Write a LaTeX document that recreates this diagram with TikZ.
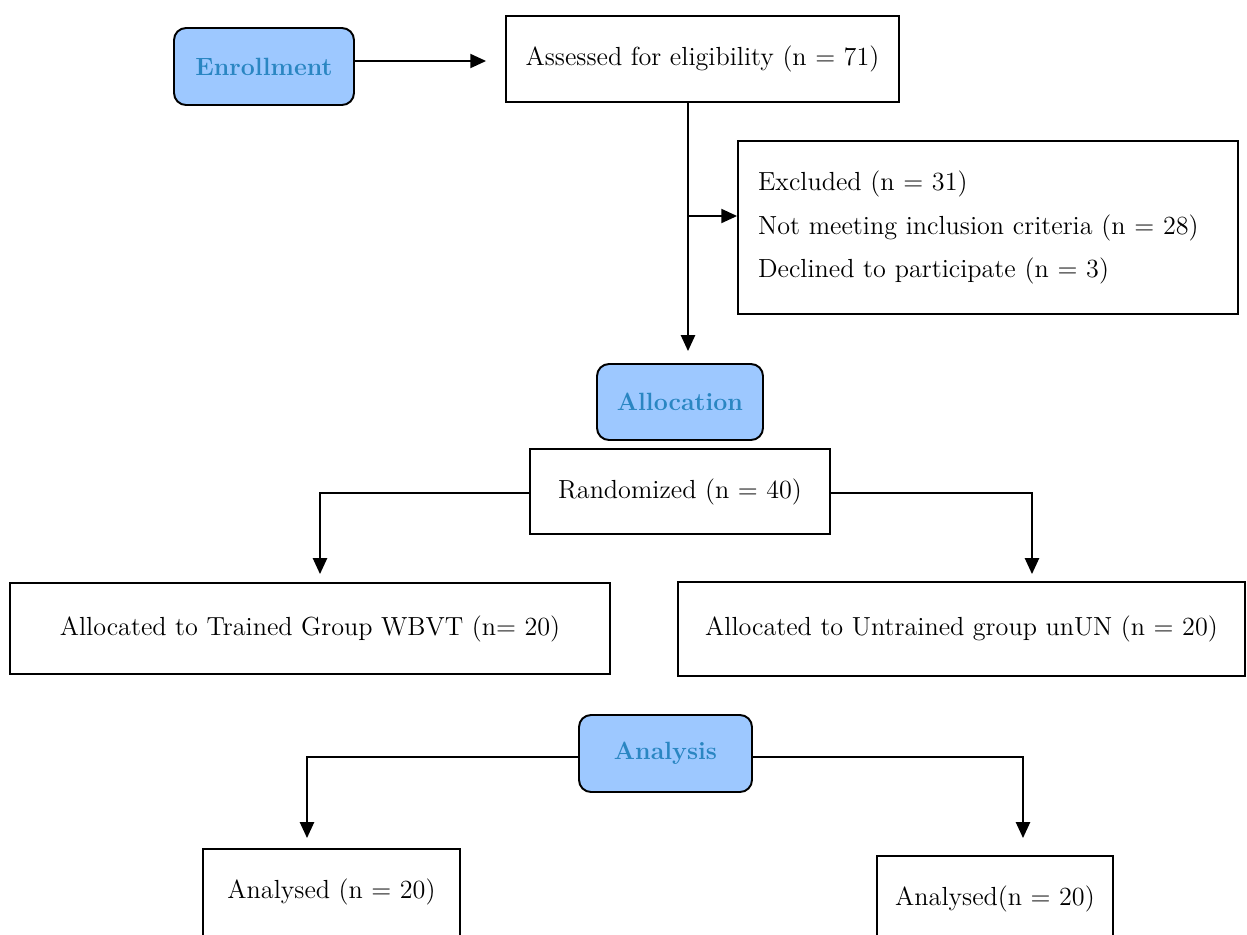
\documentclass[tikz,border=0pt]{standalone}
\usepackage{tikz}
\usetikzlibrary{arrows.meta,positioning}
\definecolor{phasefill}{HTML}{9DC8FF}
\definecolor{phasetext}{HTML}{2A86C2}
\tikzset{
  phase/.style={draw, line width=1.1pt, rounded corners=0.24cm, fill=phasefill,
    text=phasetext, font=\fontsize{14.2}{17}\selectfont\bfseries},
  stepbox/.style={draw, line width=1.1pt, font=\fontsize{14.9}{25}\selectfont},
  cutbox/.style={stepbox, anchor=north, inner ysep=0pt, text height=1cm, text depth=1.6cm},
  arr/.style={line width=1.1pt, -{Triangle[length=9pt,width=8pt]}}
}
\begin{document}
\begin{tikzpicture}[x=0.02cm, y=-0.02cm]
\clip (0,0) rectangle (1247,934);
\node[phase, minimum width=3.6cm, minimum height=1.54cm] (enroll) at (264,66.5) {Enrollment};
\node[stepbox, minimum width=7.86cm, minimum height=1.72cm] (assess) at (702.5,59) {Assessed for eligibility (n = 71)};
\node[stepbox, minimum width=10cm, minimum height=3.46cm, text width=9.2cm, inner xsep=0.4cm, align=left] (excl) at (988,227.5)
  {Excluded (n = 31)\\ Not meeting inclusion criteria (n = 28)\\ Declined to participate (n = 3)};
\node[phase, minimum width=3.32cm, minimum height=1.52cm] (alloc) at (680,402) {Allocation};
\node[stepbox, minimum width=6cm, minimum height=1.7cm] (rand) at (680,491.5) {Randomized (n = 40)};
\node[stepbox, minimum width=12cm, minimum height=1.82cm] (grpA) at (310,628.5) {Allocated to Trained Group WBVT (n= 20)};
\node[stepbox, minimum width=11.34cm, minimum height=1.88cm] (grpB) at (961.5,629) {Allocated to Untrained group unUN (n = 20)};
\node[phase, minimum width=3.46cm, minimum height=1.54cm] (ana) at (665.5,753.5) {Analysis};
\node[cutbox, minimum width=5.14cm] (anaA) at (331.5,848) {Analysed (n = 20)};
\node[cutbox, minimum width=4.72cm] (anaB) at (995,855) {Analysed(n = 20)};
\coordinate (split) at (688,216);

\draw[arr, shorten >=0.38cm] ([yshift=-0.04cm]assess.west -| enroll.east) -- ([yshift=-0.04cm]assess.west);
\draw[arr, shorten >=0.24cm] (assess.south -| split) -- (alloc.north -| split);
\draw[arr] (split) -- (split -| excl.west);
\draw[arr, shorten >=0.16cm] ([yshift=-0.03cm]rand.west) -| ([xshift=0.2cm]grpA.north);
\draw[arr, shorten >=0.14cm] ([yshift=-0.03cm]rand.east) -| ([xshift=1.41cm]grpB.north);
\draw[arr, shorten >=0.2cm] ([yshift=-0.07cm]ana.west) -| ([xshift=-0.49cm]anaA.north);
\draw[arr, shorten >=0.34cm] ([yshift=-0.07cm]ana.east) -| ([xshift=0.56cm]anaB.north);
\end{tikzpicture}
\end{document}
